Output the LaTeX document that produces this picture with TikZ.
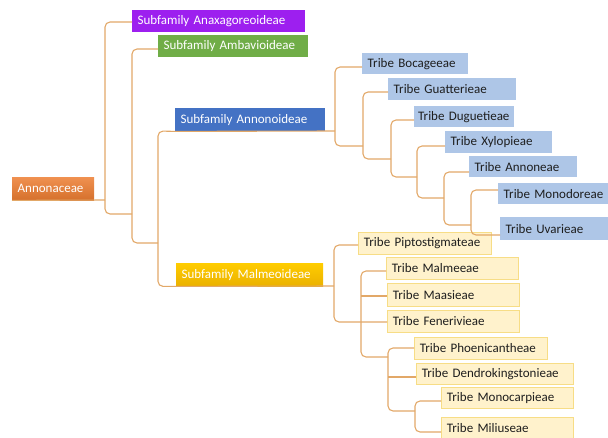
\documentclass[tikz,border=0pt]{standalone}
\usepackage{fontspec}
\setmainfont{Carlito}
\usepackage{tikz}
\usetikzlibrary{calc}

\definecolor{branchc}{RGB}{226,168,104}
\definecolor{famc}{HTML}{ED7D31}
\definecolor{anaxc}{HTML}{9D1FEF}
\definecolor{ambac}{HTML}{70AD47}
\definecolor{annoc}{HTML}{4472C4}
\definecolor{malmc}{HTML}{FFC000}
\definecolor{bluetc}{HTML}{AEC6E7}
\definecolor{yellowtc}{HTML}{FFF2CC}
\definecolor{yellowdc}{HTML}{F7DD86}
\definecolor{textc}{HTML}{1E1E1E}

\begin{document}
\begin{tikzpicture}[x=1pt,y=-1pt]
 \tikzstyle{branch}  = [draw=branchc,line width=1.1pt,rounded corners=5pt];
 \tikzstyle{tbox}    = [anchor=north west,inner xsep=5.5pt,inner ysep=0pt,
                        minimum height=22pt,align=left,
                        font=\fontsize{13}{15}\selectfont];
 \tikzstyle{subbox}  = [tbox,text=white];
 \tikzstyle{placeF}  = [top color=famc!85!white,bottom color=famc!90!black];
 \tikzstyle{placeP}  = [fill=anaxc];
 \tikzstyle{placeG}  = [fill=ambac];
 \tikzstyle{placeB}  = [fill=annoc];
 \tikzstyle{placeY}  = [top color=malmc!80!yellow,bottom color=malmc!92!black];
 \tikzstyle{tribeB}  = [tbox,fill=bluetc,text=textc];
 \tikzstyle{tribeY}  = [tbox,fill=yellowtc,draw=yellowdc,line width=0.8pt,text=textc];

 \useasboundingbox (0,0) rectangle (608,437);

 %% family and subfamilies
 \node[subbox,placeF,text width=71pt,minimum height=23pt] (ann) at (12,177) {Annonaceae};
 \node[subbox,placeP,text width=162pt] (anax) at (132,10) {Subfamily Anaxagoreoideae};
 \node[subbox,placeG,text width=139pt] (amba) at (158,35) {Subfamily Ambavioideae};
 \node[subbox,placeB,text width=139pt,minimum height=23pt] (anno) at (175,108) {Subfamily Annonoideae};
 \node[subbox,placeY,text width=136pt,minimum height=23pt] (malm) at (176,263) {Subfamily Malmeoideae};

 %% tribes of Annonoideae
 \node[tribeB,text width=95pt,minimum height=21pt] (boca) at (362,53) {Tribe Bocageeae};
 \node[tribeB,text width=117pt] (guat) at (388,78) {Tribe Guatterieae};
 \node[tribeB,inner xsep=4pt,text width=92pt,minimum height=21pt] (dugu) at (414,106) {Tribe Duguetieae};
 \node[tribeB,text width=96pt] (xylo) at (445,131) {Tribe Xylopieae};
 \node[tribeB,text width=97pt,minimum height=21pt] (anne) at (469,156) {Tribe Annoneae};
 \node[tribeB,text width=104pt,minimum height=21pt] (mono) at (498,183) {Tribe Monodoreae};
 \node[tribeB,text width=99pt,minimum height=23pt] (uvar) at (500,217) {Tribe Uvarieae};

 %% tribes of Malmeoideae
 \node[tribeY,text width=122pt] (pipt) at (358,232) {Tribe Piptostigmateae};
 \node[tribeY,text width=121pt] (malme) at (386,257) {Tribe Malmeeae};
 \node[tribeY,text width=121pt,minimum height=23pt] (maas) at (387,283) {Tribe Maasieae};
 \node[tribeY,text width=121pt] (fene) at (387,310) {Tribe Fenerivieae};
 \node[tribeY,text width=122pt] (phoe) at (414,337) {Tribe Phoenicantheae};
 \node[tribeY,text width=146pt,minimum height=21pt] (dend) at (416,363) {Tribe Dendrokingstonieae};
 \node[tribeY,text width=121pt,minimum height=21pt] (monoc) at (441,387) {Tribe Monocarpieae};
 \node[tribeY,text width=121pt] (mili) at (441,417) {Tribe Miliuseae};

 %% branches of the family
 \draw[branch] (ann.south west) -- (105,200);
 \draw[branch] (anax.west |- 0,22) -| (105,214) -- (132,214);
 \draw[branch] (amba.west |- 0,49) -| (132,243) -- (158,243);
 \draw[branch] (anno.south west) -- (158,131) |- (malm.south west);

 %% branches of Annonoideae
 \draw[branch] (anno.south west) -- (335,131);
 \draw[branch] (boca.west |- 0,67) -| (335,146) -- (363,146);
 \draw[branch] (guat.west |- 0,92) -| (363,159) -- (391,159);
 \draw[branch] (dugu.west |- 0,120) -| (391,177) -- (417,177);
 \draw[branch] (xylo.west |- 0,146) -| (417,198) -- (444,198);
 \draw[branch] (anne.west |- 0,172) -| (444,225) -- (471,225);
 \draw[branch] (mono.west |- 0,190) -| (471,235) -- (uvar.west |- 0,235);

 %% branches of Malmeoideae
 \draw[branch] (malm.south west) -- (334,286);
 \draw[branch] (pipt.west |- 0,245) -| (334,322) -- (fene.west |- 0,322);
 \draw[branch] (malme.west |- 0,271) -| (361,357) -- (388,357);
 \draw[branch] (361,296) -- (maas.west |- 0,296);
 \draw[branch] (phoe.west |- 0,348) -| (388,411) -- (415,411);
 \draw[branch] (388,377) -- (dend.west |- 0,377);
 \draw[branch] (monoc.west |- 0,401) -| (415,432) -- (mili.west |- 0,432);

\end{tikzpicture}
\end{document}
